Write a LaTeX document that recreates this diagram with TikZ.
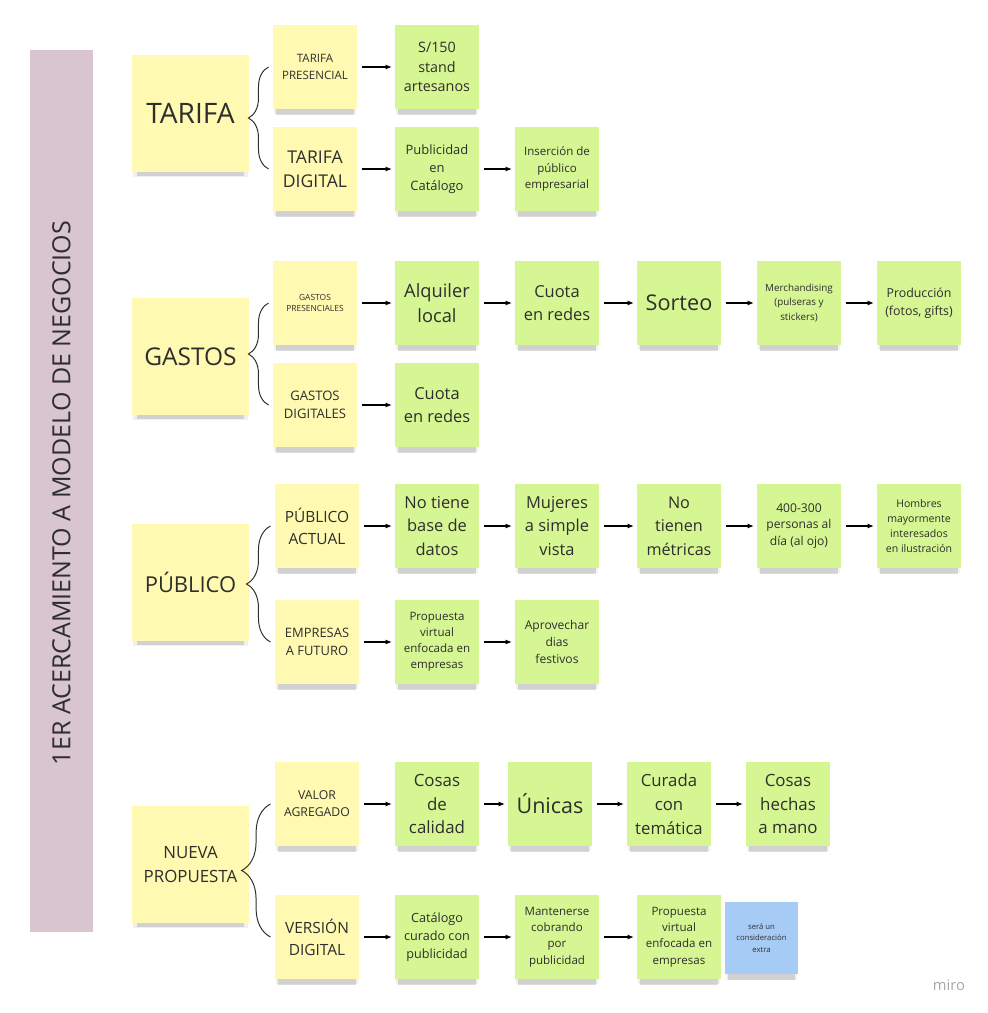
\documentclass[tikz,border=0pt]{standalone}
\usepackage{fontspec}
\setmainfont{Open Sans}
\usetikzlibrary{arrows.meta,shadows,decorations.pathreplacing}
\definecolor{ink}{HTML}{2E2E2E}
\definecolor{noteyellow}{HTML}{FFF9B1}
\definecolor{notegreen}{HTML}{D5F692}
\definecolor{noteblue}{HTML}{A6CCF5}
\definecolor{barpink}{HTML}{D8C5CF}
\newcommand\fsz[2]{\fontsize{#1}{#2}\selectfont}
\begin{document}
\begin{tikzpicture}[x=0.025cm,y=-0.025cm]
	\tikzset{note/.style = {shape=rectangle,inner sep=0pt,align=center,text=ink,
		drop shadow={shadow xshift=0pt,shadow yshift=-4.5pt,opacity=.12,shadow scale=.98},
		drop shadow={shadow xshift=0pt,shadow yshift=-7pt,opacity=.28,shadow scale=.92}}}
	\tikzset{bignote/.style = {note,fill=noteyellow,minimum size=2.925cm}}
	\tikzset{topic/.style = {note,fill=noteyellow,minimum size=2.1cm}}
	\tikzset{idea/.style = {note,fill=notegreen,minimum size=2.1cm}}
	\tikzset{extra/.style = {note,fill=noteblue,minimum width=1.825cm,minimum height=1.8cm}}
	\tikzset{arr/.style = {-{Latex[length=4.5pt,width=3.6pt]},draw=black,line width=.8pt,shorten <=3pt,shorten >=2pt}}
	\tikzset{brc/.style = {draw=ink,line width=.7pt,decorate,decoration={brace,amplitude=#1}}}
	\useasboundingbox (0,0) rectangle (987,1013);
	\fill[barpink] (30,50) rectangle (93,932);
	\node[rotate=90,text=ink,font=\fsz{17.8}{20}] (bartitle) at (61.5,493) {1ER ACERCAMIENTO A MODELO DE NEGOCIOS};
	% grupos
	\node[bignote,font=\fsz{20}{24}] (tarifa) at (190.5,113.5) {TARIFA};
	\node[bignote,font=\fsz{17.4}{22}] (gastos) at (190.5,356.5) {GASTOS};
	\node[bignote,font=\fsz{15.6}{20}] (publico) at (190.5,582.5) {PÚBLICO};
	\node[bignote,font=\fsz{12}{17}] (nueva) at (190.5,864.5) {NUEVA\\PROPUESTA};
	% subtemas
	\node[topic,font=\fsz{8.2}{11.5}] (tpre) at (315,67) {TARIFA\\PRESENCIAL};
	\node[topic,font=\fsz{12.5}{17}] (tdig) at (315,169) {TARIFA\\DIGITAL};
	\node[topic,font=\fsz{6}{8.5}] (gpre) at (315,303) {GASTOS\\PRESENCIALES};
	\node[topic,font=\fsz{9.3}{13}] (gdig) at (315,405) {GASTOS\\DIGITALES};
	\node[topic,font=\fsz{11}{15.5}] (pact) at (317,526) {PÚBLICO\\ACTUAL};
	\node[topic,font=\fsz{9.2}{13}] (pfut) at (317,642) {EMPRESAS\\A FUTURO};
	\node[topic,font=\fsz{8.7}{12}] (vagr) at (317,804) {VALOR\\AGREGADO};
	\node[topic,font=\fsz{11}{15.5}] (vdig) at (317,937) {VERSIÓN\\DIGITAL};
	% ideas
	\node[idea,font=\fsz{10.2}{14}] (stand) at (437,67) {S/150\\stand\\artesanos};
	\node[idea,font=\fsz{9.2}{13}] (pubcat) at (437,169) {Publicidad\\en\\Catálogo};
	\node[idea,font=\fsz{8.2}{11.5}] (insercion) at (557,169) {Inserción de\\público\\empresarial};
	\node[idea,font=\fsz{13}{17.7}] (alquiler) at (437,303) {Alquiler\\local};
	\node[idea,font=\fsz{11.7}{16.5}] (cuotap) at (557,303) {Cuota\\en redes};
	\node[idea,font=\fsz{15.4}{20}] (sorteo) at (679,303) {Sorteo};
	\node[idea,font=\fsz{7}{10}] (merch) at (799,303) {Merchandising\\(pulseras y\\stickers)};
	\node[idea,font=\fsz{8.8}{12.5}] (produccion) at (919,303) {Producción\\(fotos, gifts)};
	\node[idea,font=\fsz{11.7}{16.5}] (cuotad) at (437,405) {Cuota\\en redes};
	\node[idea,font=\fsz{11.7}{16.7}] (notiene) at (437,526) {No tiene\\base de\\datos};
	\node[idea,font=\fsz{11.7}{16.7}] (mujeres) at (557,526) {Mujeres\\a simple\\vista};
	\node[idea,font=\fsz{11.5}{16.7}] (metricas) at (679,526) {No\\tienen\\métricas};
	\node[idea,font=\fsz{8.6}{12}] (personas) at (799,526) {400-300\\personas al\\día (al ojo)};
	\node[idea,font=\fsz{7.5}{10.5}] (hombres) at (919,526) {Hombres\\mayormente\\interesados\\en ilustración};
	\node[idea,font=\fsz{8.2}{11.5}] (propemp) at (437,642) {Propuesta\\virtual\\enfocada en\\empresas};
	\node[idea,font=\fsz{8.6}{12}] (festivos) at (557,642) {Aprovechar\\dias\\festivos};
	\node[idea,font=\fsz{12}{17}] (calidad) at (437,804) {Cosas\\de\\calidad};
	\node[idea,font=\fsz{15.3}{20}] (unicas) at (550,804) {Únicas};
	\node[idea,font=\fsz{11.9}{17}] (curada) at (669,804) {Curada\\con\\temática};
	\node[idea,font=\fsz{12}{17}] (hechas) at (788,804) {Cosas\\hechas\\a mano};
	\node[idea,font=\fsz{9}{12.8}] (catalogo) at (437,937) {Catálogo\\curado con\\publicidad};
	\node[idea,font=\fsz{8.2}{11.5}] (mantener) at (557,937) {Mantenerse\\cobrando\\por\\publicidad};
	\node[idea,font=\fsz{8.2}{11.5}] (propvir) at (679,937) {Propuesta\\virtual\\enfocada en\\empresas};
	\node[extra,font=\fsz{5.5}{8}] (consid) at (761.5,938) {será un\\consideración\\extra};
	\node[text=black!35,font=\fsz{10.5}{12}] (miro) at (949,985) {miro};
	% llaves
	\draw[brc=.5cm] ([xshift=-3pt]tdig.west) -- ([xshift=-3pt]tpre.west);
	\draw[brc=.5cm] ([xshift=-3pt]gdig.west) -- ([xshift=-3pt]gpre.west);
	\draw[brc=.6cm] ([xshift=-3pt]pfut.west) -- ([xshift=-3pt]pact.west);
	\draw[brc=.72cm] ([xshift=-3pt]vdig.west) -- ([xshift=-3pt]vagr.west);
	% flechas
	\path[arr] (tpre) edge (stand);
	\path[arr] (tdig) edge (pubcat);
	\path[arr] (pubcat) edge (insercion);
	\path[arr] (gpre) edge (alquiler);
	\path[arr] (alquiler) edge (cuotap);
	\path[arr] (cuotap) edge (sorteo);
	\path[arr] (sorteo) edge (merch);
	\path[arr] (merch) edge (produccion);
	\path[arr] (gdig) edge (cuotad);
	\path[arr] (pact) edge (notiene);
	\path[arr] (notiene) edge (mujeres);
	\path[arr] (mujeres) edge (metricas);
	\path[arr] (metricas) edge (personas);
	\path[arr] (personas) edge (hombres);
	\path[arr] (pfut) edge (propemp);
	\path[arr] (propemp) edge (festivos);
	\path[arr] (vagr) edge (calidad);
	\path[arr] (calidad) edge (unicas);
	\path[arr] (unicas) edge (curada);
	\path[arr] (curada) edge (hechas);
	\path[arr] (vdig) edge (catalogo);
	\path[arr] (catalogo) edge (mantener);
	\path[arr] (mantener) edge (propvir);
\end{tikzpicture}
\end{document}
